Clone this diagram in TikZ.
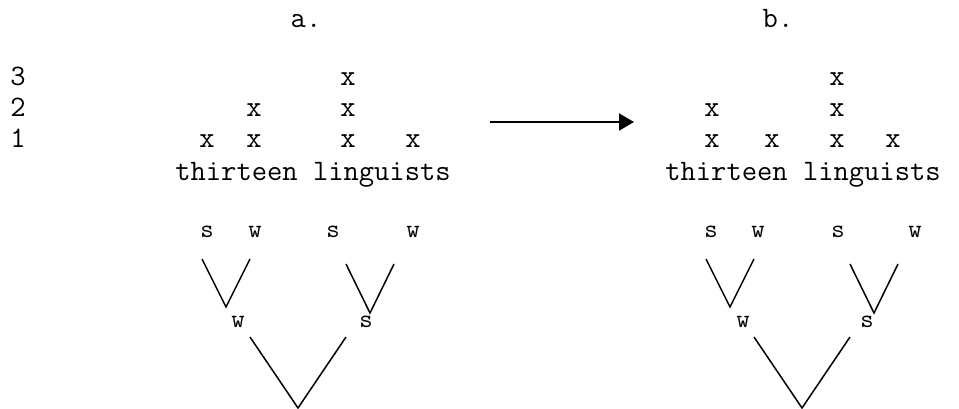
\documentclass[tikz,border=0pt]{standalone}
\usepackage{fontspec}
\usetikzlibrary{arrows.meta}
\begin{document}
\begin{tikzpicture}[x=1pt,y=-1pt,
  txt/.style={inner sep=0pt,anchor=base,font=\ttfamily\fontsize{29.7}{30}\selectfont},
  lab/.style={inner sep=0pt,anchor=base,font=\ttfamily\fontsize{26}{26}\selectfont},
  branch/.style={line width=1.5pt},
  arr/.style={line width=2pt,-{Triangle[length=15pt,width=17pt]}}]
\useasboundingbox (0,0) rectangle (959,408);
% panel labels
\node[txt] (la) at (306,27) {a.};
\node[txt] (lb) at (778,27) {b.};
% level numbers
\node[txt] (n3) at (18,85) {3};
\node[txt] (n2) at (18,116) {2};
\node[txt] (n1) at (18,147) {1};
% grid a
\node[txt] (a11) at (207,147) {x};
\node[txt] (a12) at (254,147) {x};
\node[txt] (a13) at (348,147) {x};
\node[txt] (a14) at (413,147) {x};
\node[txt] (a22) at (254,116) {x};
\node[txt] (a23) at (348,116) {x};
\node[txt] (a33) at (348,85) {x};
\node[txt] (wa) at (313,180) {thirteen linguists};
% grid b
\node[txt] (b11) at (712,147) {x};
\node[txt] (b12) at (772,147) {x};
\node[txt] (b13) at (837,147) {x};
\node[txt] (b14) at (893,147) {x};
\node[txt] (b21) at (712,116) {x};
\node[txt] (b23) at (837,116) {x};
\node[txt] (b33) at (837,85) {x};
\node[txt] (wb) at (803,180) {thirteen linguists};
% arrow
\coordinate (as) at (490,122);
\coordinate (ae) at (634,122);
\draw[arr] (as) -- (ae);
% tree a
\node[lab] (ta1) at (207,237) {s};
\node[lab] (ta2) at (255,237) {w};
\node[lab] (ta3) at (333,237) {s};
\node[lab] (ta4) at (413,237) {w};
\node[lab] (ta5) at (238,327) {w};
\node[lab] (ta6) at (366,327) {s};
\coordinate (pa1) at (202,259);
\coordinate (pa2) at (226,307);
\coordinate (pa3) at (250,259);
\coordinate (pa4) at (346,264);
\coordinate (pa5) at (370,313);
\coordinate (pa6) at (394,264);
\coordinate (pa7) at (250,337);
\coordinate (pa8) at (298,408);
\coordinate (pa9) at (346,337);
\draw[branch] (pa1) -- (pa2) -- (pa3);
\draw[branch] (pa4) -- (pa5) -- (pa6);
\draw[branch] (pa7) -- (pa8) -- (pa9);
% tree b
\node[lab] (tb1) at (711,237) {s};
\node[lab] (tb2) at (758,237) {w};
\node[lab] (tb3) at (838,237) {s};
\node[lab] (tb4) at (915,237) {w};
\node[lab] (tb5) at (743,327) {w};
\node[lab] (tb6) at (867,327) {s};
\coordinate (pb1) at (706,259);
\coordinate (pb2) at (730,307);
\coordinate (pb3) at (754,259);
\coordinate (pb4) at (850,264);
\coordinate (pb5) at (874,313);
\coordinate (pb6) at (898,264);
\coordinate (pb7) at (754,337);
\coordinate (pb8) at (802,408);
\coordinate (pb9) at (850,337);
\draw[branch] (pb1) -- (pb2) -- (pb3);
\draw[branch] (pb4) -- (pb5) -- (pb6);
\draw[branch] (pb7) -- (pb8) -- (pb9);
\end{tikzpicture}
\end{document}
